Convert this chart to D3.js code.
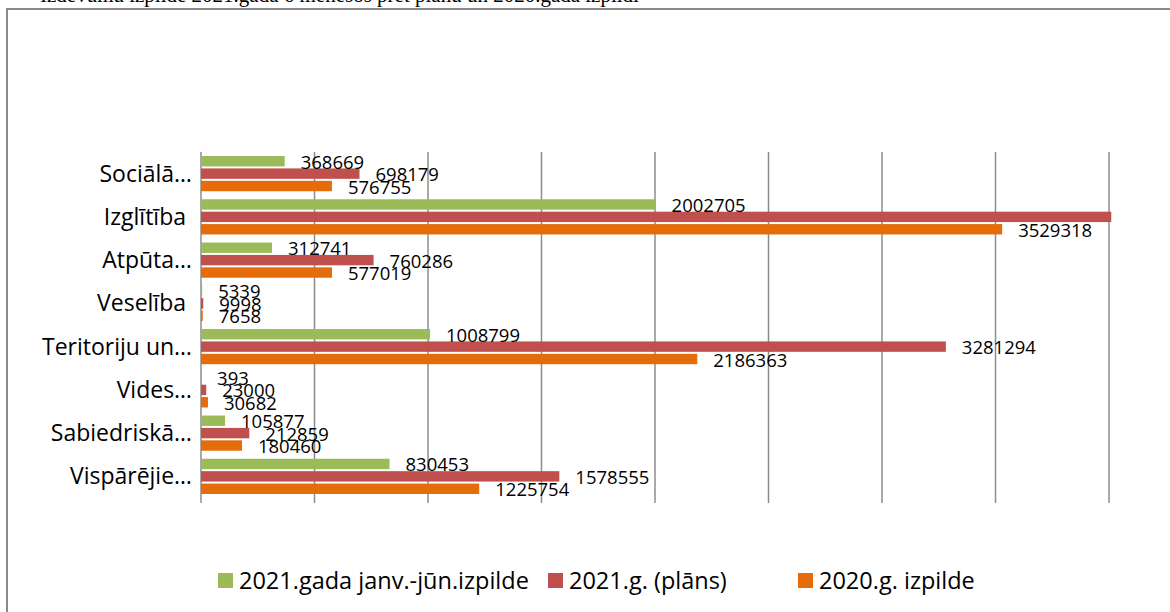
<!DOCTYPE html>
<html>
<head>
<meta charset="utf-8">
<script src="https://cdn.jsdelivr.net/npm/d3@7"></script>
<style>
  body { margin: 0; background: #fff; }
  svg { display: block; }
</style>
</head>
<body>
<svg id="chart" width="1170" height="612"></svg>
<script>
var categories = ["Sociālā…", "Izglītība ", "Atpūta…", "Veselība ", "Teritoriju un…", "Vides…", "Sabiedriskā…", "Vispārējie…"];
var seriesNames = ["2021.gada janv.-jūn.izpilde", "2021.g. (plāns)", "2020.g. izpilde"];
var janJun2021 = [368669, 2002705, 312741, 5339, 1008799, 393, 105877, 830453];
var plan2021 = [698179, 4010000, 760286, 9998, 3281294, 23000, 212859, 1578555];
var actual2020 = [576755, 3529318, 577019, 7658, 2186363, 30682, 180460, 1225754];
var xTicks = [0, 500000, 1000000, 1500000, 2000000, 2500000, 3000000, 3500000, 4000000];
var colors = ["#9bbb59", "#c0504d", "#e46c0a"];

var svg = d3.select("#chart");

// frame of the embedded chart (top & left visible, rest cut off)
svg.append("rect")
    .attr("x", 7).attr("y", 9)
    .attr("width", 1300).attr("height", 700)
    .attr("fill", "none")
    .attr("stroke", "#8a8a8a")
    .attr("stroke-width", 2);

// cut-off document text above the chart
svg.append("text")
    .attr("x", 40).attr("y", 2)
    .attr("font-family", "Liberation Serif")
    .attr("font-size", 21)
    .attr("fill", "#000")
    .text("Izdevumu izpilde 2021.gada 6 mēnešos pret plānu un 2020.gada izpildi");

var x = d3.scaleLinear().domain([0, 4000000]).range([201, 1109]);
var y = d3.scaleBand().domain(categories).range([152, 498]).paddingInner(0.14).paddingOuter(0.07);
var sub = d3.scaleBand().domain(seriesNames).range([0, y.bandwidth()]);

// gridlines + tick marks below
svg.append("g")
    .selectAll("line")
    .data(xTicks)
    .enter()
    .append("line")
    .attr("x1", function(d) { return x(d); })
    .attr("x2", function(d) { return x(d); })
    .attr("y1", 152)
    .attr("y2", 503)
    .attr("stroke", "#8c8c8c")
    .attr("stroke-width", 1.5);

var rows = categories.map(function(c, i) {
    return { cat: c, values: [janJun2021[i], plan2021[i], actual2020[i]] };
});

var group = svg.append("g").selectAll(".cat")
    .data(rows)
    .enter()
    .append("g")
    .attr("transform", function(d) { return "translate(0," + y(d.cat) + ")"; });

var bars = group.selectAll(".bar")
    .data(function(d) { return d.values.map(function(v, j) { return { v: v, s: seriesNames[j], j: j }; }); })
    .enter();

bars.append("rect")
    .attr("x", x(0))
    .attr("y", function(d) { return sub(d.s) + 1; })
    .attr("width", function(d) { return Math.max(x(d.v) - x(0), 1); })
    .attr("height", sub.bandwidth() - 2)
    .attr("fill", function(d) { return colors[d.j]; });

// value labels (outside end); the one past the axis end is hidden
bars.filter(function(d) { return d.v < 4000000; })
    .append("text")
    .attr("x", function(d) { return x(d.v) + 16; })
    .attr("y", function(d) { return sub(d.s) + sub.bandwidth() / 2 + 7.5; })
    .attr("font-family", "Open Sans")
    .attr("font-size", 18.5)
    .attr("fill", "#000")
    .text(function(d) { return d.v; });

// category labels
svg.append("g").selectAll("text")
    .data(categories)
    .enter()
    .append("text")
    .attr("x", 192)
    .attr("y", function(d) { return y(d) + y.bandwidth() / 2 + 8; })
    .attr("text-anchor", "end")
    .style("white-space", "pre")
    .attr("font-family", "Open Sans")
    .attr("font-size", 23)
    .attr("fill", "#000")
    .text(function(d) { return d; });

// legend
var legendX = [218, 548, 798];
var legend = svg.append("g").selectAll("g")
    .data(seriesNames)
    .enter()
    .append("g")
    .attr("transform", function(d, i) { return "translate(" + legendX[i] + ",573)"; });

legend.append("rect")
    .attr("width", 15)
    .attr("height", 15)
    .attr("fill", function(d, i) { return colors[i]; });

legend.append("text")
    .attr("x", 21)
    .attr("y", 15.5)
    .attr("font-family", "Open Sans")
    .attr("font-size", 23.5)
    .attr("fill", "#000")
    .text(function(d) { return d; });
</script>
</body>
</html>
